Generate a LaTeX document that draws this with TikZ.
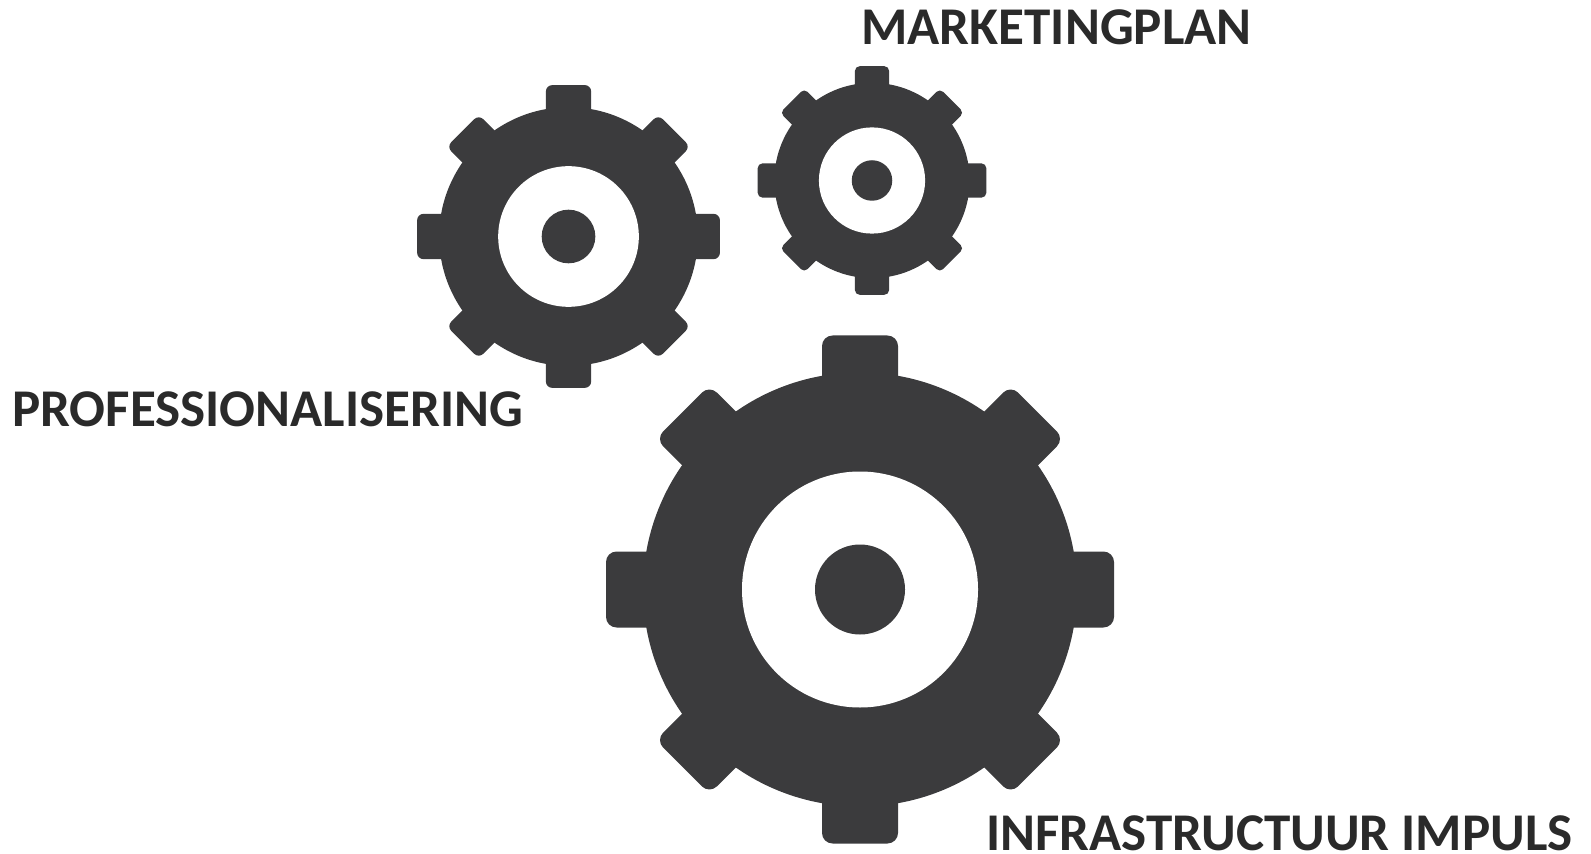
\documentclass[tikz,border=0pt]{standalone}
\usepackage{fontspec}
\setmainfont{Carlito}
\usepackage{tikz}
\usetikzlibrary{positioning}

\definecolor{geardark}{HTML}{3B3B3D}
\definecolor{labeldark}{HTML}{2A2A2A}

\begin{document}
\begin{tikzpicture}[
    x=0.02cm, y=-0.02cm,
    gearfill/.style={fill=geardark, draw=none},
    gearlabel/.style={font=\fontsize{30.2}{30.2}\selectfont\bfseries, text=labeldark, anchor=base west, inner sep=0pt},
    pics/gearwheel/.style args={#1 and #2}{code={
        % teeth, the slanted ones a little shorter
        \foreach \ang/\toothlen in {0/254,45/251,90/254,135/251,180/254,225/251,270/254,315/251} {
            \fill[geardark, rotate=\ang, rounded corners=#2]
                (-38*#1,-100*#1) -- (-38*#1,-\toothlen*#1) -- (38*#1,-\toothlen*#1) -- (38*#1,-100*#1) -- cycle;
        }
        % body, hole, hub
        \path[gearfill] (0,0) circle[radius=217*#1];
        \path[fill=white] (0,0) circle[radius=118*#1];
        \path[gearfill] (0,0) circle[radius=45*#1];
    }}
]

\useasboundingbox (0,0) rectangle (1591,854);

% === GEARS ===

% large gear at bottom
\pic at (860,589.5) {gearwheel={1 and 6pt}};

% medium gear at left
\pic at (568.5,236.5) {gearwheel={0.596 and 3.6pt}};

% small gear at top
\pic at (872,180.5) {gearwheel={0.45 and 2.7pt}};

% === LABELS ===
\node[gearlabel] (marketing) at (861,45) {MARKETINGPLAN};
\node[gearlabel] (professional) at (12,426) {PROFESSIONALISERING};
\node[gearlabel] (infra) at (986,850) {INFRASTRUCTUUR IMPULS};

\end{tikzpicture}
\end{document}
